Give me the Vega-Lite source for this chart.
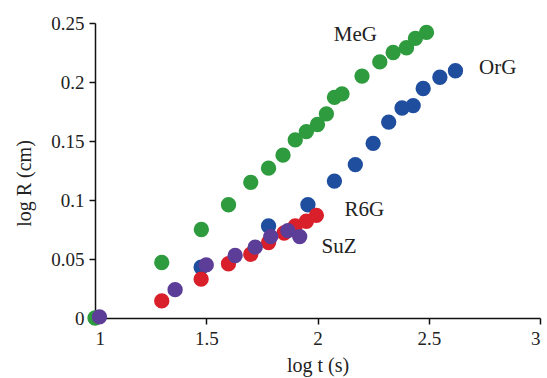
{
  "$schema": "https://vega.github.io/schema/vega-lite/v6.json",
  "autosize": {"type": "none"},
  "padding": {"left": 95, "top": 23, "right": 7, "bottom": 60},
  "width": 445,
  "height": 295,
  "background": "white",
  "config": {
    "view": {"stroke": null},
    "font": "Liberation Serif",
    "axis": {"grid": false, "domainColor": "#111", "domainWidth": 1.5, "tickColor": "#111", "tickWidth": 1.5, "tickSize": 6, "labelFont": "Liberation Serif", "labelFontSize": 19, "labelColor": "#222", "titleFont": "Liberation Serif", "titleFontSize": 20, "titleFontWeight": "normal", "titleColor": "#222"}
  },
  "datasets": {
    "pts": [
      {"dye": "MeG", "logt": 1.0, "logR": 0.0},
      {"dye": "MeG", "logt": 1.30, "logR": 0.047},
      {"dye": "MeG", "logt": 1.478, "logR": 0.075},
      {"dye": "MeG", "logt": 1.60, "logR": 0.096},
      {"dye": "MeG", "logt": 1.70, "logR": 0.115},
      {"dye": "MeG", "logt": 1.78, "logR": 0.127},
      {"dye": "MeG", "logt": 1.845, "logR": 0.138},
      {"dye": "MeG", "logt": 1.90, "logR": 0.151},
      {"dye": "MeG", "logt": 1.95, "logR": 0.158},
      {"dye": "MeG", "logt": 2.0, "logR": 0.164},
      {"dye": "MeG", "logt": 2.04, "logR": 0.173},
      {"dye": "MeG", "logt": 2.076, "logR": 0.187},
      {"dye": "MeG", "logt": 2.11, "logR": 0.190},
      {"dye": "MeG", "logt": 2.20, "logR": 0.205},
      {"dye": "MeG", "logt": 2.28, "logR": 0.217},
      {"dye": "MeG", "logt": 2.34, "logR": 0.225},
      {"dye": "MeG", "logt": 2.40, "logR": 0.229},
      {"dye": "MeG", "logt": 2.44, "logR": 0.237},
      {"dye": "MeG", "logt": 2.49, "logR": 0.242},
      {"dye": "OrG", "logt": 1.477, "logR": 0.043},
      {"dye": "OrG", "logt": 1.78, "logR": 0.078},
      {"dye": "OrG", "logt": 1.957, "logR": 0.096},
      {"dye": "OrG", "logt": 2.076, "logR": 0.116},
      {"dye": "OrG", "logt": 2.17, "logR": 0.130},
      {"dye": "OrG", "logt": 2.25, "logR": 0.148},
      {"dye": "OrG", "logt": 2.32, "logR": 0.166},
      {"dye": "OrG", "logt": 2.38, "logR": 0.178},
      {"dye": "OrG", "logt": 2.43, "logR": 0.180},
      {"dye": "OrG", "logt": 2.475, "logR": 0.1945},
      {"dye": "OrG", "logt": 2.55, "logR": 0.204},
      {"dye": "OrG", "logt": 2.62, "logR": 0.2095},
      {"dye": "R6G", "logt": 1.30, "logR": 0.0145},
      {"dye": "R6G", "logt": 1.477, "logR": 0.033},
      {"dye": "R6G", "logt": 1.60, "logR": 0.046},
      {"dye": "R6G", "logt": 1.70, "logR": 0.054},
      {"dye": "R6G", "logt": 1.78, "logR": 0.064},
      {"dye": "R6G", "logt": 1.85, "logR": 0.072},
      {"dye": "R6G", "logt": 1.90, "logR": 0.078},
      {"dye": "R6G", "logt": 1.95, "logR": 0.082},
      {"dye": "R6G", "logt": 1.995, "logR": 0.087},
      {"dye": "SuZ", "logt": 1.02, "logR": 0.001},
      {"dye": "SuZ", "logt": 1.36, "logR": 0.024},
      {"dye": "SuZ", "logt": 1.50, "logR": 0.045},
      {"dye": "SuZ", "logt": 1.63, "logR": 0.053},
      {"dye": "SuZ", "logt": 1.72, "logR": 0.060},
      {"dye": "SuZ", "logt": 1.79, "logR": 0.069},
      {"dye": "SuZ", "logt": 1.867, "logR": 0.074},
      {"dye": "SuZ", "logt": 1.92, "logR": 0.069}
    ],
    "labels": [
      {"label": "MeG", "logt": 2.17, "logR": 0.240},
      {"label": "OrG", "logt": 2.81, "logR": 0.212},
      {"label": "R6G", "logt": 2.21, "logR": 0.0915},
      {"label": "SuZ", "logt": 2.097, "logR": 0.0598}
    ]
  },
  "layer": [
    {
      "data": {"name": "pts"},
      "mark": {"type": "circle", "size": 235, "opacity": 1},
      "encoding": {
        "x": {"field": "logt", "type": "quantitative", "scale": {"domain": [1, 3], "nice": false, "zero": false}, "axis": {"values": [1, 1.5, 2, 2.5, 3], "labelExpr": "'' + datum.value", "labelFont": "Liberation Serif", "title": "log t (s)", "labelPadding": 5, "titlePadding": 7}},
        "y": {"field": "logR", "type": "quantitative", "scale": {"domain": [0, 0.25], "nice": false}, "axis": {"values": [0, 0.05, 0.1, 0.15, 0.2, 0.25], "labelExpr": "'' + datum.value", "labelFont": "Liberation Serif", "title": "log R (cm)", "labelPadding": 5, "titlePadding": 16, "titleY": 160}},
        "color": {"field": "dye", "type": "nominal", "scale": {"domain": ["MeG", "OrG", "R6G", "SuZ"], "range": ["#2e9b3e", "#1f4e9f", "#d9202a", "#5c3d98"]}, "legend": null},
        "order": {"field": "dye", "sort": "ascending"}
      }
    },
    {
      "data": {"name": "labels"},
      "mark": {"type": "text", "font": "Liberation Serif", "fontSize": 21, "color": "#222", "baseline": "middle", "align": "center"},
      "encoding": {
        "x": {"field": "logt", "type": "quantitative"},
        "y": {"field": "logR", "type": "quantitative"},
        "text": {"field": "label"}
      }
    }
  ]
}
